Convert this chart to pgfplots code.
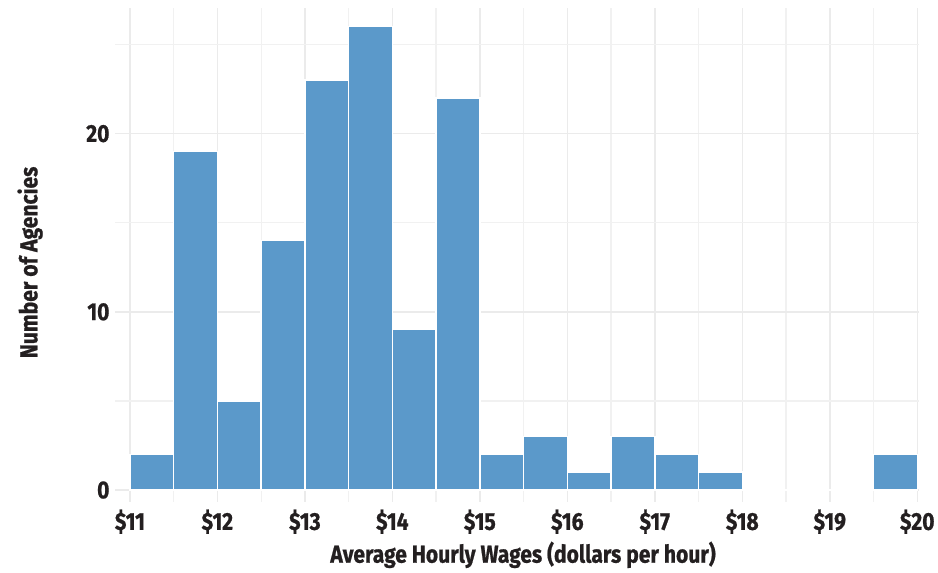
\documentclass[border=0pt]{standalone}
\usepackage{pgfplots}
\pgfplotsset{compat=1.18}
\usepackage{fontspec}
\setmainfont{Fira Sans}[FakeStretch=0.86, BoldFeatures={FakeBold=0.8}]
\definecolor{barblue}{HTML}{5B99CA}
\definecolor{gridgray}{HTML}{EBEBEB}
\definecolor{txt}{HTML}{231F20}
\begin{document}
\begin{tikzpicture}[x=1pt,y=1pt]
\path[use as bounding box] (0,0) rectangle (938,573);
\begin{axis}[
  at={(115pt,71pt)}, anchor=south west,
  scale only axis, width=804pt, height=494pt,
  xmin=10.83, xmax=20.02, ymin=-0.67, ymax=27.05,
  axis line style={draw=none},
  major tick length=0, minor tick length=0,
  xtick={11,...,20}, minor xtick={11.5,12.5,...,19.5},
  ytick={0,10,20}, minor ytick={5,15,25},
  xticklabels={\$11,\$12,\$13,\$14,\$15,\$16,\$17,\$18,\$19,\$20},
  /pgf/number format/assume math mode=true,
  grid=both,
  major grid style={gridgray, line width=1.5pt},
  minor grid style={gridgray!70, line width=1.2pt},
  tick label style={font=\fontsize{24.5}{28}\selectfont\bfseries, text=txt},
  label style={font=\fontsize{24.5}{28}\selectfont\bfseries, text=txt},
  xticklabel style={yshift=-4pt},
  yticklabel style={xshift=-2pt},
  xlabel={Average Hourly Wages (dollars per hour)},
  ylabel={Number of Agencies},
  xlabel style={at={(axis description cs:0.5075,-0.107)}, anchor=center},
  ylabel style={at={(axis description cs:-0.1056,0.485)}, anchor=center},
]
\addplot[ybar interval, fill=barblue, draw=white, line width=1.5pt] coordinates {
(11,2) (11.5,19) (12,5) (12.5,14) (13,23) (13.5,26) (14,9) (14.5,22)
(15,2) (15.5,3) (16,1) (16.5,3) (17,2) (17.5,1) (18,0) (18.5,0) (19,0) (19.5,2) (20,2)
};
\end{axis}
\end{tikzpicture}
\end{document}
